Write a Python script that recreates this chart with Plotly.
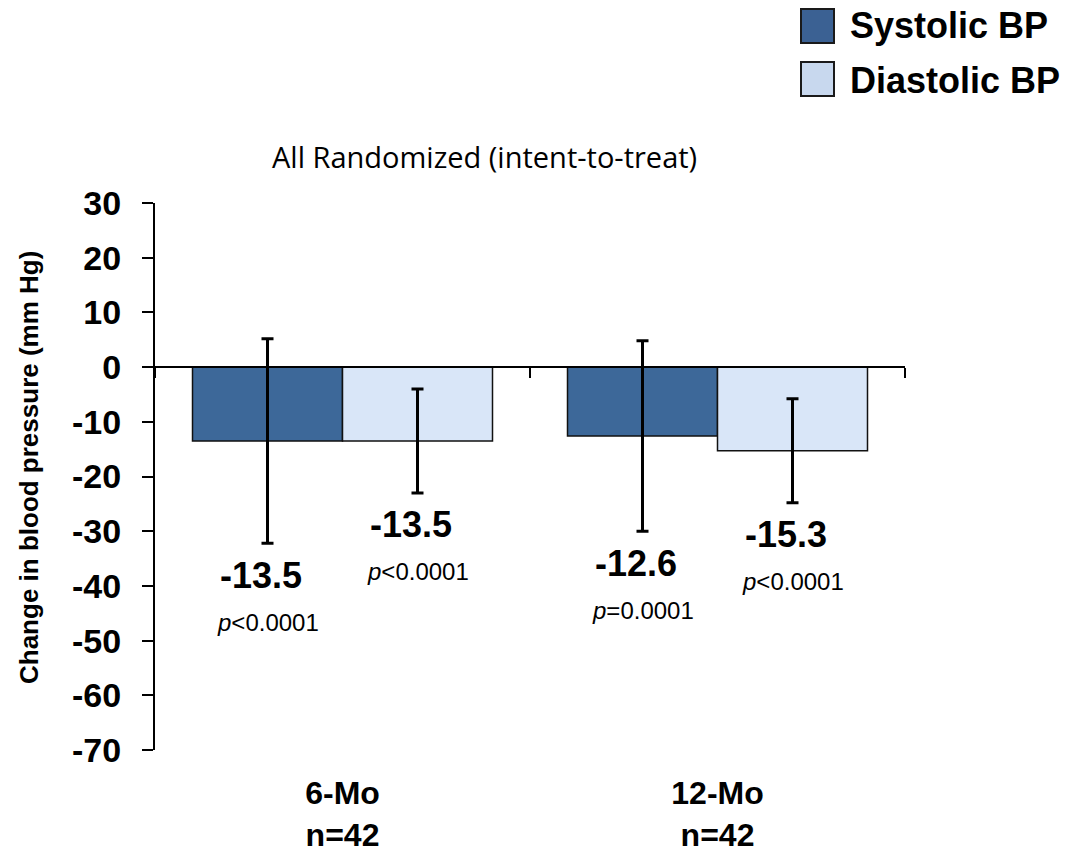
import plotly.graph_objects as go

# Mean change in blood pressure (mm Hg) with SD, all randomized patients
periods = ["6-Mo", "12-Mo"]
n_patients = [42, 42]
systolic = [-13.5, -12.6]
systolic_sd = [18.7, 17.4]
systolic_p = ["&lt;0.0001", "=0.0001"]
diastolic = [-13.5, -15.3]
diastolic_sd = [9.5, 9.5]
diastolic_p = ["&lt;0.0001", "&lt;0.0001"]
y_ticks = list(range(-70, 31, 10))
y_tick_text = [str(v) for v in y_ticks]

W, H = 1072, 852
ML, MR, MT, MB = 155, 167, 203, 102
SYS_COLOR = "#3D6899"
DIA_COLOR = "#D9E6F8"
SANS = "Liberation Sans, Arial, sans-serif"


def px_to_paper(px, py):
    return (px - ML) / (W - ML - MR), (H - MB - py) / (H - MT - MB)


fig = go.Figure()
fig.add_trace(go.Bar(
    name="Systolic BP", x=periods, y=systolic,
    marker=dict(color=SYS_COLOR, line=dict(color="#111111", width=1.5)),
    error_y=dict(type="data", array=systolic_sd, color="black", thickness=3, width=6),
    showlegend=False,
))
fig.add_trace(go.Bar(
    name="Diastolic BP", x=periods, y=diastolic,
    marker=dict(color=DIA_COLOR, line=dict(color="#111111", width=1.5)),
    error_y=dict(type="data", array=diastolic_sd, color="black", thickness=3, width=6),
    showlegend=False,
))
# invisible trace that carries the zero-level category axis
fig.add_trace(go.Scatter(x=periods, y=[None, None], xaxis="x2", mode="markers",
                         showlegend=False, hoverinfo="skip"))

annotations = []
for i, p in enumerate(periods):
    for off, vals, sds, ps in ((-0.2, systolic, systolic_sd, systolic_p),
                               (0.2, diastolic, diastolic_sd, diastolic_p)):
        low = vals[i] - sds[i]
        annotations.append(dict(
            x=i + off, y=low, xref="x", yref="y", text=f"{vals[i]:.1f}",
            showarrow=False, yanchor="middle", xanchor="center", xshift=-7, yshift=-32,
            font=dict(family=SANS, size=36, color="black", weight="bold")))
        annotations.append(dict(
            x=i + off, y=low, xref="x", yref="y", text=f"<i>p</i>{ps[i]}",
            showarrow=False, yanchor="middle", xanchor="center", yshift=-79,
            font=dict(family=SANS, size=24, color="black")))

# y-axis title
tx, ty = px_to_paper(29, 468)
annotations.append(dict(
    x=tx, y=ty, xref="paper", yref="paper", text="Change in blood pressure (mm Hg)",
    textangle=-90, showarrow=False, xanchor="center", yanchor="middle",
    font=dict(family=SANS, size=26, color="black", weight="bold")))

# chart heading
hx, hy = px_to_paper(484, 157)
annotations.append(dict(
    x=hx, y=hy, xref="paper", yref="paper", text="All Randomized (intent-to-treat)",
    showarrow=False, xanchor="center", yanchor="middle",
    font=dict(family="Open Sans, sans-serif", size=29, color="black")))

# legend: swatches and labels
shapes = []
legend_items = [("Systolic BP", "#3B6193", 9, 43, 26), ("Diastolic BP", "#C8D8EE", 62, 96, 80)]
for label, color, top, bottom, cy in legend_items:
    x0, y0 = px_to_paper(801, bottom)
    x1, y1 = px_to_paper(834, top)
    shapes.append(dict(type="rect", xref="paper", yref="paper", x0=x0, y0=y0, x1=x1, y1=y1,
                       fillcolor=color, line=dict(color="#1a1a1a", width=2)))
    lx, ly = px_to_paper(848, cy)
    annotations.append(dict(
        x=lx, y=ly, xref="paper", yref="paper", text=label, showarrow=False,
        xanchor="left", yanchor="middle",
        font=dict(family=SANS, size=36, color="black", weight="bold")))

fig.update_layout(
    width=W, height=H,
    margin=dict(l=ML, r=MR, t=MT, b=MB, pad=0, autoexpand=False),
    plot_bgcolor="white", paper_bgcolor="white",
    barmode="group", bargap=0.2, bargroupgap=0,
    xaxis=dict(
        categoryorder="array", categoryarray=periods,
        tickvals=periods, ticktext=[f"{p}<br>n={n}" for p, n in zip(periods, n_patients)],
        tickfont=dict(family=SANS, size=32, color="black", weight="bold"),
        showline=False, ticks="", showgrid=False, zeroline=False,
        ticklabelstandoff=21, automargin=False,
    ),
    xaxis2=dict(
        overlaying="x", matches="x", anchor="free", position=0.7,
        categoryorder="array", categoryarray=periods,
        showline=True, linecolor="black", linewidth=2,
        ticks="outside", tickson="boundaries", ticklen=10, tickwidth=2, tickcolor="black",
        showticklabels=False, showgrid=False, zeroline=False, automargin=False,
    ),
    yaxis=dict(
        range=[-70, 30], tickvals=y_ticks, ticktext=y_tick_text,
        tickfont=dict(family=SANS, size=34, color="black", weight="bold"),
        showline=True, linecolor="black", linewidth=2,
        ticks="outside", ticklen=11, tickwidth=2, tickcolor="black",
        showgrid=False, zeroline=False, ticklabelstandoff=14, automargin=False,
    ),
    annotations=annotations,
    shapes=shapes,
)

fig.write_html("out.html")
